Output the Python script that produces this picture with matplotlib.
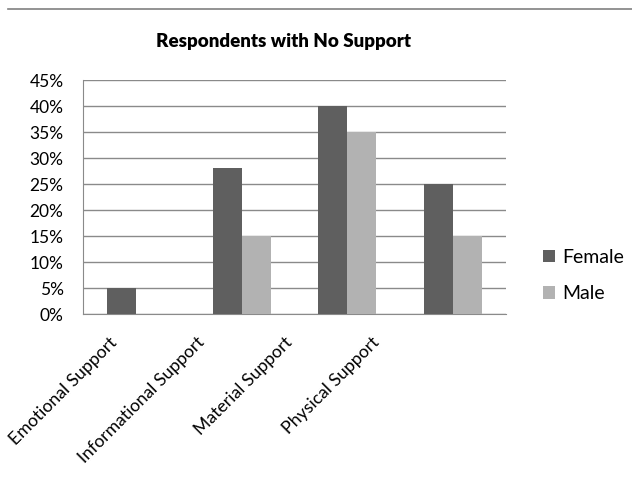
import numpy as np
import matplotlib.pyplot as plt
from matplotlib.lines import Line2D
from matplotlib.ticker import PercentFormatter
from matplotlib.transforms import ScaledTranslation

categories = ['Emotional Support', 'Informational Support', 'Material Support', 'Physical Support']
female = [5, 28, 40, 25]
male = [0, 15, 35, 15]
yticks = [0, 5, 10, 15, 20, 25, 30, 35, 40, 45]

plt.rcParams['font.family'] = ['Lato', 'DejaVu Sans']

fig = plt.figure(figsize=(6.32, 4.87), dpi=100)
ax = fig.add_axes([0.1313, 0.3552, 0.6693, 0.4805])

x = np.arange(len(categories))
w = 0.275
ax.bar(x - w / 2, female, w, color='#5f5f5f', label='Female', zorder=3)
ax.bar(x + w / 2, male, w, color='#b2b2b2', label='Male', zorder=3)

ax.set_xlim(-0.5, len(categories) - 0.5)
ax.set_ylim(0, 45)
ax.set_yticks(yticks)
ax.yaxis.set_major_formatter(PercentFormatter(decimals=0))
ax.yaxis.grid(True, color='#8a8a8a', linewidth=1, zorder=0)

for s in ['top', 'right']:
    ax.spines[s].set_visible(False)
ax.spines['left'].set_color('#8a8a8a')
ax.spines['bottom'].set_color('#8a8a8a')

ax.tick_params(axis='y', length=0, labelsize=12.5, pad=14)
ax.set_xticks(x)
ax.set_xticklabels([])
ax.tick_params(axis='x', length=0)

# category labels, rotated, ends drift left like the original
shift_px = [-21, -40, -58, -76]
for xi, lab, dx in zip(x, categories, shift_px):
    tr = ax.get_xaxis_transform() + ScaledTranslation(dx / 100, -0.26, fig.dpi_scale_trans)
    ax.text(xi, 0, lab, transform=tr, rotation=45, ha='right', va='center',
            rotation_mode='anchor', fontsize=12.7)

ax.set_title('Respondents with No Support', fontsize=13.5, fontweight='heavy',
             pad=24, x=0.474)

ax.legend(loc='center left', bbox_to_anchor=(1.045, 0.165), frameon=False,
          fontsize=14, handlelength=0.62, handleheight=0.62, labelspacing=1.0,
          handletextpad=0.4)

fig.add_artist(Line2D([0.012, 1.0], [0.982, 0.982], color='#808080', linewidth=1.2))

fig.savefig('out.png', dpi=100)
